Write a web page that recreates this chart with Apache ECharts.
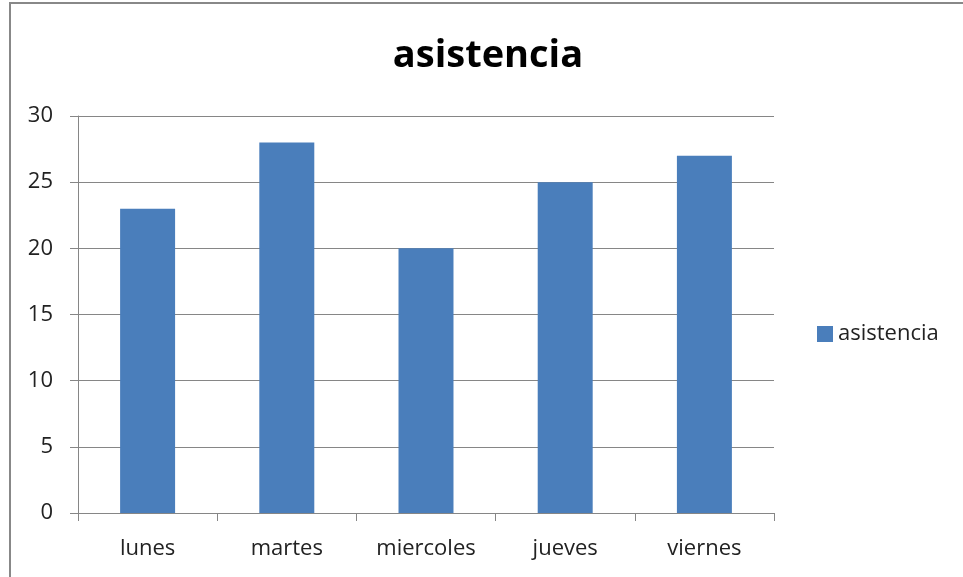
<!DOCTYPE html>
<html><head><meta charset="utf-8">
<script src="https://cdn.jsdelivr.net/npm/echarts@6/dist/echarts.min.js"></script>
<style>html,body{margin:0;padding:0;background:#fff}#c{width:963px;height:577px}</style>
</head><body><div id="c"></div>
<script>
const categories = ['lunes','martes','miercoles','jueves','viernes'];
const values = [23, 28, 20, 25, 27];
const seriesName = 'asistencia';
const titleText = 'asistencia';

const chart = echarts.init(document.getElementById('c'), null, {renderer:'canvas'});
const font = "'Open Sans', 'Noto Sans', sans-serif";
chart.setOption({
  animation:false,
  backgroundColor:'#fff',
  graphic:[{type:'rect', shape:{x:10, y:3, width:1000, height:700}, style:{fill:'none', stroke:'#888', lineWidth:2}, silent:true}],
  title:{text:titleText, left:483, textAlign:'center', top:32,
    textStyle:{fontFamily:font, fontSize:38, fontWeight:'bold', color:'#000'}},
  legend:{data:[seriesName], left:812, top:318, itemWidth:16, itemHeight:16,
    icon:'rect', textStyle:{fontFamily:font, fontSize:22, color:'#222'}},
  grid:{left:78, top:116, width:696, height:397, containLabel:false},
  xAxis:{type:'category', data:categories,
    axisLine:{lineStyle:{color:'#868686', width:1}},
    axisTick:{show:true, length:8, alignWithLabel:false, lineStyle:{color:'#868686'}},
    axisLabel:{fontFamily:font, fontSize:22, color:'#222', margin:25}},
  yAxis:{type:'value', min:0, max:30, interval:5,
    axisLine:{show:true, lineStyle:{color:'#868686'}},
    axisTick:{show:true, length:8, lineStyle:{color:'#868686'}},
    splitLine:{lineStyle:{color:'#868686', width:1}},
    axisLabel:{fontFamily:font, fontSize:22, color:'#222', margin:25}},
  series:[{name:seriesName, type:'bar', data:values, barWidth:'39.5%',
    itemStyle:{color:'#4a7ebb'}}]
});
</script></body></html>
